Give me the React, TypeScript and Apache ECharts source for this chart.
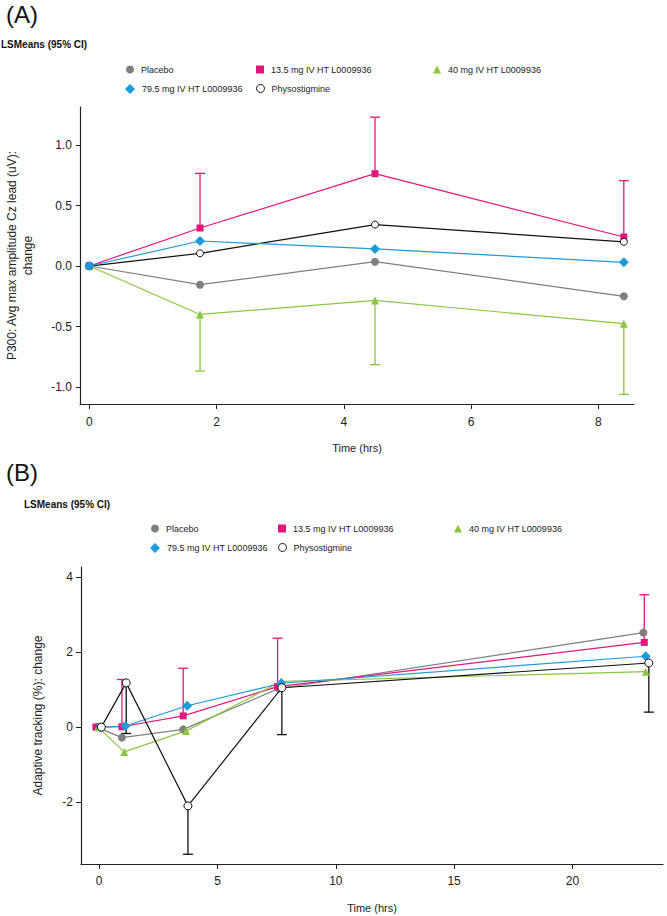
import React, { useEffect, useRef } from "react";
import * as echarts from "echarts";

// ---------- Panel A data ----------
const timesA = [0, 1.74, 4.49, 8.4];
const placeboA = [0, -0.154, 0.036, -0.25];
const mg13A = [0, 0.314, 0.763, 0.24];
const mg40A = [0, -0.4, -0.284, -0.476];
const mg79A = [0, 0.207, 0.141, 0.031];
const physoA = [0, 0.105, 0.342, 0.2];
const mg13UpperA = [null, 0.766, 1.23, 0.705];
const mg40LowerA = [null, -0.868, -0.815, -1.06];
const yTicksA = [-1, -0.5, 0, 0.5, 1];
const xTicksA = [0, 2, 4, 6, 8];

// ---------- Panel B data ----------
const timesPlaceboB = [-0.1, 0.96, 3.55, 7.6, 23.0];
const times13B = [-0.14, 0.96, 3.55, 7.54, 23.04];
const times40B = [-0.05, 1.06, 3.67, 7.7, 23.1];
const times79B = [0.05, 1.1, 3.72, 7.7, 23.1];
const timesPhysoB = [0.09, 1.14, 3.75, 7.72, 23.23];
const placeboB = [0, -0.28, -0.06, 1.03, 2.52];
const mg13B = [0, 0.01, 0.3, 1.08, 2.26];
const mg40B = [0, -0.66, -0.1, 1.22, 1.48];
const mg79B = [0, 0.03, 0.57, 1.17, 1.89];
const physoB = [0, 1.18, -2.1, 1.05, 1.71];
const mg13UpperB = [null, 1.27, 1.57, 2.37, 3.53];
const physoLowerB = [null, -0.17, -3.39, -0.2, 0.4];
const yTicksB = [-2, 0, 2, 4];
const xTicksB = [0, 5, 10, 15, 20];

const seriesNames = [
  "Placebo",
  "13.5 mg IV HT L0009936",
  "40 mg IV HT L0009936",
  "79.5 mg IV HT L0009936",
  "Physostigmine",
];

const COLORS = {
  placebo: "#7f7f7f",
  mg13: "#e3177b",
  mg40: "#8cc63f",
  mg79: "#1d9ad9",
  physo: "#111111",
};

const SANS = "'Liberation Sans', Arial, sans-serif";

function pairs(xs: number[], ys: (number | null)[]) {
  return xs.map((x, i) => [x, ys[i]]);
}

function errData(xs: number[], ys: number[], ends: (number | null)[]) {
  const out: number[][] = [];
  xs.forEach((x, i) => {
    const e = ends[i];
    if (e !== null && e !== undefined) out.push([x, ys[i], e]);
  });
  return out;
}

function errorSeries(data: number[][], color: string, axis: number) {
  return {
    type: "custom",
    xAxisIndex: axis,
    yAxisIndex: axis,
    z: 1,
    silent: true,
    encode: { x: 0, y: [1, 2] },
    data,
    renderItem: (params: any, api: any) => {
      const x = api.value(0);
      const p1 = api.coord([x, api.value(1)]);
      const p2 = api.coord([x, api.value(2)]);
      const hw = 5;
      return {
        type: "group",
        children: [
          {
            type: "line",
            shape: { x1: p1[0], y1: p1[1], x2: p2[0], y2: p2[1] },
            style: { stroke: color, lineWidth: 1.3 },
          },
          {
            type: "line",
            shape: { x1: p2[0] - hw, y1: p2[1], x2: p2[0] + hw, y2: p2[1] },
            style: { stroke: color, lineWidth: 1.3 },
          },
        ],
      };
    },
  };
}

function lineSeries(
  name: string,
  data: any[],
  color: string,
  symbol: string,
  size: number,
  axis: number,
  hollow = false,
  z = 2
) {
  return {
    type: "line",
    name,
    xAxisIndex: axis,
    yAxisIndex: axis,
    data,
    z,
    symbol,
    symbolSize: size,
    showAllSymbol: true,
    lineStyle: { color, width: 1.2 },
    itemStyle: hollow
      ? { color: "#ffffff", borderColor: color, borderWidth: 1 }
      : { color, borderWidth: 0 },
    emphasis: { disabled: true },
  };
}

function legendItem(idx: number, left: number, top: number) {
  const icons = ["circle", "rect", "triangle", "diamond", "circle"];
  const styles = [
    { color: COLORS.placebo, borderWidth: 0 },
    { color: COLORS.mg13, borderWidth: 0 },
    { color: COLORS.mg40, borderWidth: 0 },
    { color: COLORS.mg79, borderWidth: 0 },
    { color: "#ffffff", borderColor: "#111111", borderWidth: 1 },
  ];
  return {
    left,
    top: top - 5,
    orient: "horizontal",
    itemWidth: idx === 3 ? 10 : 8,
    itemHeight: idx === 3 ? 10 : 8,
    itemGap: 4,
    selectedMode: false,
    padding: 0,
    data: [{ name: seriesNames[idx], icon: icons[idx], itemStyle: styles[idx] }],
    textStyle: { fontSize: 9, fontFamily: SANS, color: "#222", padding: [0, 0, 0, 2] },
  };
}

export default function App() {
  const ref = useRef<HTMLDivElement>(null);
  useEffect(() => {
    document.body.style.margin = "0";
    if (!ref.current) return;
    const chart = echarts.init(ref.current, null, { renderer: "svg" });

    const axisCommon = {
      axisLine: { show: true, onZero: false, lineStyle: { color: "#222", width: 1.2 } },
      splitLine: { show: false },
    };

    const option: any = {
      animation: false,
      backgroundColor: "#ffffff",
      title: [
        { text: "(A)", left: 6, top: 2, padding: 0, textStyle: { fontSize: 24, fontWeight: "normal", fontFamily: SANS, color: "#111" } },
        { text: "LSMeans (95% CI)", left: 1, top: 39, padding: 0, textStyle: { fontSize: 10, fontWeight: "bold", fontFamily: SANS, color: "#111" } },
        { text: "(B)", left: 6, top: 460, padding: 0, textStyle: { fontSize: 24, fontWeight: "normal", fontFamily: SANS, color: "#111" } },
        { text: "LSMeans (95% CI)", left: 24, top: 499, padding: 0, textStyle: { fontSize: 10, fontWeight: "bold", fontFamily: SANS, color: "#111" } },
      ],
      legend: [
        legendItem(0, 126, 70),
        legendItem(1, 256, 70),
        legendItem(2, 433, 70),
        legendItem(3, 125, 89),
        legendItem(4, 256, 89),
        legendItem(0, 151, 529),
        legendItem(1, 278, 529),
        legendItem(2, 454, 529),
        legendItem(3, 150, 548),
        legendItem(4, 278, 548),
      ],
      grid: [
        { left: 80, top: 107, right: 33, height: 297, outerBoundsMode: "none", containLabel: false },
        { left: 81, top: 567, right: 4, height: 297, outerBoundsMode: "none", containLabel: false },
      ],
      xAxis: [
        {
          type: "value",
          gridIndex: 0,
          min: -0.146,
          max: 8.56,
          ...axisCommon,
          axisTick: { show: true, length: 5, customValues: xTicksA, lineStyle: { color: "#222" } },
          axisLabel: { customValues: xTicksA, fontSize: 12, fontFamily: SANS, color: "#222", margin: 12 },
          name: "Time (hrs)",
          nameLocation: "middle",
          nameGap: 38,
          nameTextStyle: { fontSize: 11, fontFamily: SANS, color: "#222" },
        },
        {
          type: "value",
          gridIndex: 1,
          min: -0.77,
          max: 23.83,
          ...axisCommon,
          axisTick: { show: true, length: 5, customValues: xTicksB, lineStyle: { color: "#222" } },
          axisLabel: { customValues: xTicksB, fontSize: 12, fontFamily: SANS, color: "#222", margin: 11 },
          name: "Time (hrs)",
          nameLocation: "middle",
          nameGap: 38,
          nameTextStyle: { fontSize: 11, fontFamily: SANS, color: "#222" },
        },
      ],
      yAxis: [
        {
          type: "value",
          gridIndex: 0,
          min: -1.14,
          max: 1.314,
          ...axisCommon,
          axisTick: { show: true, length: 4, customValues: yTicksA, lineStyle: { color: "#222" } },
          axisLabel: {
            customValues: yTicksA,
            fontSize: 12,
            fontFamily: SANS,
            color: "#222",
            margin: 8,
            formatter: (v: number) => v.toFixed(1),
          },
          name: "P300: Avg max amplitude Cz lead (uV):\nchange",
          nameLocation: "middle",
          nameGap: 44,
          nameTextStyle: { fontSize: 12, fontFamily: SANS, color: "#222", lineHeight: 16 },
        },
        {
          type: "value",
          gridIndex: 1,
          min: -3.65,
          max: 4.27,
          ...axisCommon,
          axisTick: { show: true, length: 5, customValues: yTicksB, lineStyle: { color: "#222" } },
          axisLabel: { customValues: yTicksB, fontSize: 12, fontFamily: SANS, color: "#222", margin: 8 },
          name: "Adaptive tracking (%): change",
          nameLocation: "middle",
          nameGap: 37,
          nameTextStyle: { fontSize: 12, fontFamily: SANS, color: "#222" },
        },
      ],
      series: [
        errorSeries(errData(timesA, mg13A, mg13UpperA), COLORS.mg13, 0),
        errorSeries(errData(timesA, mg40A, mg40LowerA), COLORS.mg40, 0),
        lineSeries(seriesNames[0], pairs(timesA, placeboA), COLORS.placebo, "circle", 8, 0),
        lineSeries(seriesNames[1], pairs(timesA, mg13A), COLORS.mg13, "rect", 7, 0),
        lineSeries(seriesNames[2], pairs(timesA, mg40A), COLORS.mg40, "triangle", 8, 0),
        lineSeries(seriesNames[4], pairs(timesA, physoA), COLORS.physo, "circle", 7, 0, true),
        lineSeries(seriesNames[3], pairs(timesA, mg79A), COLORS.mg79, "diamond", 10, 0, false, 3),

        errorSeries(errData(times13B, mg13B, mg13UpperB), COLORS.mg13, 1),
        errorSeries(errData(timesPhysoB, physoB, physoLowerB), COLORS.physo, 1),
        lineSeries(seriesNames[0], pairs(timesPlaceboB, placeboB), COLORS.placebo, "circle", 8, 1),
        lineSeries(seriesNames[1], pairs(times13B, mg13B), COLORS.mg13, "rect", 7, 1),
        lineSeries(seriesNames[2], pairs(times40B, mg40B), COLORS.mg40, "triangle", 8, 1),
        lineSeries(seriesNames[3], pairs(times79B, mg79B), COLORS.mg79, "diamond", 10, 1),
        lineSeries(seriesNames[4], pairs(timesPhysoB, physoB), COLORS.physo, "circle", 8, 1, true, 3),
      ],
    };
    chart.setOption(option);
    return () => chart.dispose();
  }, []);
  return <div ref={ref} style={{ width: 667, height: 916 }} />;
}
